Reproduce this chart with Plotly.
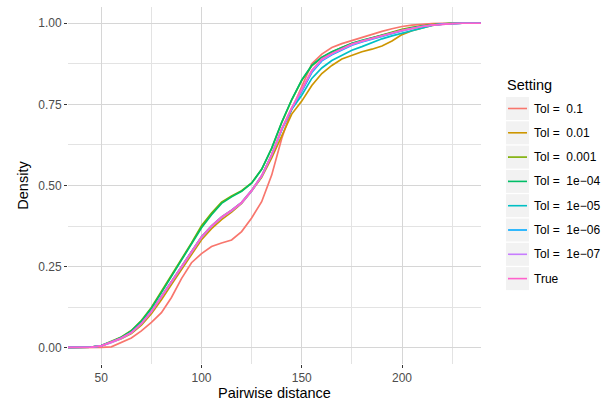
import plotly.graph_objects as go

# ---------------- data ----------------
distance = [20, 40, 45, 50, 55, 60, 65, 70, 75, 80, 85, 90, 95, 100, 105, 110, 115, 120,
            125, 130, 135, 140, 145, 150, 155, 160, 165, 170, 175, 180, 185, 190, 195,
            200, 205, 210, 215, 220, 225, 230, 250]

tol_0_1 = [0, 0, 0, 0.001, 0.003, 0.016, 0.030, 0.052, 0.078, 0.108, 0.155, 0.213, 0.262,
           0.290, 0.312, 0.323, 0.332, 0.358, 0.400, 0.450, 0.532, 0.645, 0.735, 0.805,
           0.875, 0.905, 0.925, 0.937, 0.947, 0.955, 0.967, 0.975, 0.983, 0.990, 0.994,
           0.997, 0.999, 1.0, 1.0, 1.0, 1.0]
tol_0_01 = [0, 0, 0.002, 0.006, 0.016, 0.028, 0.044, 0.070, 0.105, 0.148, 0.195, 0.240,
            0.287, 0.333, 0.367, 0.395, 0.418, 0.445, 0.483, 0.525, 0.585, 0.655, 0.720,
            0.760, 0.808, 0.845, 0.870, 0.890, 0.902, 0.912, 0.920, 0.930, 0.945, 0.965,
            0.977, 0.986, 0.993, 0.997, 1.0, 1.0, 1.0]
tol_0_001 = [0, 0, 0.002, 0.007, 0.019, 0.033, 0.053, 0.084, 0.124, 0.173, 0.224, 0.273,
             0.323, 0.376, 0.415, 0.449, 0.468, 0.484, 0.508, 0.550, 0.614, 0.694, 0.764,
             0.824, 0.869, 0.894, 0.911, 0.925, 0.937, 0.946, 0.955, 0.964, 0.973, 0.981,
             0.987, 0.992, 0.996, 0.998, 1.0, 1.0, 1.0]
tol_1e_04 = [0, 0, 0.002, 0.007, 0.018, 0.032, 0.052, 0.082, 0.122, 0.170, 0.220, 0.268,
             0.318, 0.370, 0.410, 0.445, 0.465, 0.482, 0.507, 0.550, 0.615, 0.695, 0.765,
             0.825, 0.870, 0.895, 0.912, 0.926, 0.938, 0.947, 0.955, 0.963, 0.972, 0.980,
             0.986, 0.991, 0.995, 0.998, 1.0, 1.0, 1.0]
tol_1e_05 = [0, 0, 0.002, 0.006, 0.017, 0.030, 0.047, 0.075, 0.112, 0.158, 0.205, 0.250,
             0.297, 0.342, 0.376, 0.403, 0.424, 0.448, 0.485, 0.530, 0.595, 0.672, 0.735,
             0.778, 0.830, 0.862, 0.885, 0.902, 0.917, 0.928, 0.940, 0.952, 0.961, 0.969,
             0.978, 0.986, 0.993, 0.997, 0.999, 1.0, 1.0]
tol_1e_06 = [0, 0, 0.002, 0.006, 0.017, 0.030, 0.047, 0.075, 0.112, 0.157, 0.204, 0.249,
             0.296, 0.341, 0.375, 0.402, 0.423, 0.447, 0.484, 0.529, 0.594, 0.672, 0.737,
             0.790, 0.848, 0.884, 0.903, 0.918, 0.932, 0.942, 0.951, 0.960, 0.968, 0.976,
             0.984, 0.990, 0.994, 0.997, 0.999, 1.0, 1.0]
tol_1e_07 = [0, 0, 0.002, 0.006, 0.016, 0.029, 0.046, 0.074, 0.111, 0.156, 0.203, 0.248,
             0.295, 0.340, 0.374, 0.401, 0.422, 0.446, 0.483, 0.529, 0.594, 0.673, 0.738,
             0.793, 0.852, 0.887, 0.905, 0.920, 0.934, 0.944, 0.953, 0.961, 0.969, 0.977,
             0.984, 0.990, 0.994, 0.997, 0.999, 1.0, 1.0]
true_vals = [0, 0, 0.002, 0.006, 0.017, 0.030, 0.047, 0.075, 0.112, 0.158, 0.205, 0.250,
             0.297, 0.342, 0.376, 0.403, 0.424, 0.448, 0.485, 0.530, 0.595, 0.675, 0.740,
             0.795, 0.855, 0.890, 0.907, 0.922, 0.936, 0.945, 0.954, 0.962, 0.970, 0.978,
             0.985, 0.990, 0.994, 0.997, 0.999, 1.0, 1.0]

setting_labels = ["Tol =\u00a0 0.1", "Tol =\u00a0 0.01", "Tol =\u00a0 0.001", "Tol =\u00a0 1e\u221204",
                  "Tol =\u00a0 1e\u221205", "Tol =\u00a0 1e\u221206", "Tol =\u00a0 1e\u221207", "True"]
series = [tol_0_1, tol_0_01, tol_0_001, tol_1e_04, tol_1e_05, tol_1e_06, tol_1e_07, true_vals]
colors = ["#F8766D", "#CD9600", "#7CAE00", "#00BE67", "#00BFC4", "#00A9FF", "#C77CFF", "#FF61CC"]

x_ticks = [50, 100, 150, 200]
y_ticks = [0, 0.25, 0.5, 0.75, 1.0]
y_ticklabels = ["0.00", "0.25", "0.50", "0.75", "1.00"]

# ---------------- figure ----------------
W, H = 611, 404
L, R, T, B = 68, 130, 7, 40
FONT = "Liberation Sans, Arial, Helvetica, sans-serif"

fig = go.Figure()
for name, vals, col in zip(setting_labels, series, colors):
    fig.add_trace(go.Scatter(x=distance, y=vals, mode="lines", name=name,
                             line=dict(color=col, width=1.7), showlegend=False,
                             hoverinfo="skip"))

grid_major = "#d6d6d6"
grid_minor = "#e3e3e3"
fig.update_xaxes(range=[33.4, 239.4], tickvals=x_ticks, ticktext=[str(v) for v in x_ticks],
                 showgrid=True, gridcolor=grid_major, gridwidth=1.2, automargin=False,
                 minor=dict(tickvals=[75, 125, 175, 225], showgrid=True,
                            gridcolor=grid_minor, gridwidth=0.8, ticks=""),
                 zeroline=False, showline=False, ticks="outside", ticklen=3,
                 tickwidth=1, tickcolor="#333333",
                 tickfont=dict(family=FONT, size=12, color="#4d4d4d"),
                 title=dict(text="Pairwise distance", standoff=3,
                            font=dict(family=FONT, size=14.5, color="#000000")))
fig.update_yaxes(range=[-0.05, 1.05], tickvals=y_ticks, ticktext=y_ticklabels,
                 showgrid=True, gridcolor=grid_major, gridwidth=1.2, automargin=False,
                 minor=dict(tickvals=[0.125, 0.375, 0.625, 0.875], showgrid=True,
                            gridcolor=grid_minor, gridwidth=0.8, ticks=""),
                 zeroline=False, showline=False, ticks="outside", ticklen=3,
                 tickwidth=1, tickcolor="#333333",
                 tickfont=dict(family=FONT, size=12, color="#4d4d4d"),
                 title=dict(text="Density", standoff=6,
                            font=dict(family=FONT, size=14.5, color="#000000")))

# ---------------- legend (ggplot style) ----------------
pw = W - L - R
ph = H - T - B


def px_x(px):
    return (px - L) / pw


def px_y(py):
    return (H - B - py) / ph


shapes = []
annotations = [dict(x=px_x(505), y=px_y(85), xref="paper", yref="paper", text="Setting",
                    showarrow=False, xanchor="left", yanchor="middle",
                    font=dict(family=FONT, size=14.5, color="#000000"))]
key_top0, pitch, key_h = 97, 24.3, 23
for i, (name, col) in enumerate(zip(setting_labels, colors)):
    top = key_top0 + i * pitch
    shapes.append(dict(type="rect", xref="paper", yref="paper",
                       x0=px_x(506), x1=px_x(529), y0=px_y(top + key_h), y1=px_y(top),
                       fillcolor="#f2f2f2", line=dict(width=0), layer="below"))
    cy = top + key_h / 2
    shapes.append(dict(type="line", xref="paper", yref="paper",
                       x0=px_x(508), x1=px_x(527), y0=px_y(cy), y1=px_y(cy),
                       line=dict(color=col, width=1.6)))
    annotations.append(dict(x=px_x(532), y=px_y(cy), xref="paper", yref="paper", text=name,
                            showarrow=False, xanchor="left", yanchor="middle",
                            font=dict(family=FONT, size=12, color="#000000")))

fig.update_layout(width=W, height=H, margin=dict(l=L, r=R, t=T, b=B),
                  paper_bgcolor="white", plot_bgcolor="white",
                  shapes=shapes, annotations=annotations, showlegend=False)

fig.write_html("out.html", config={"displayModeBar": False},
               post_script="document.body.style.margin='0';")
